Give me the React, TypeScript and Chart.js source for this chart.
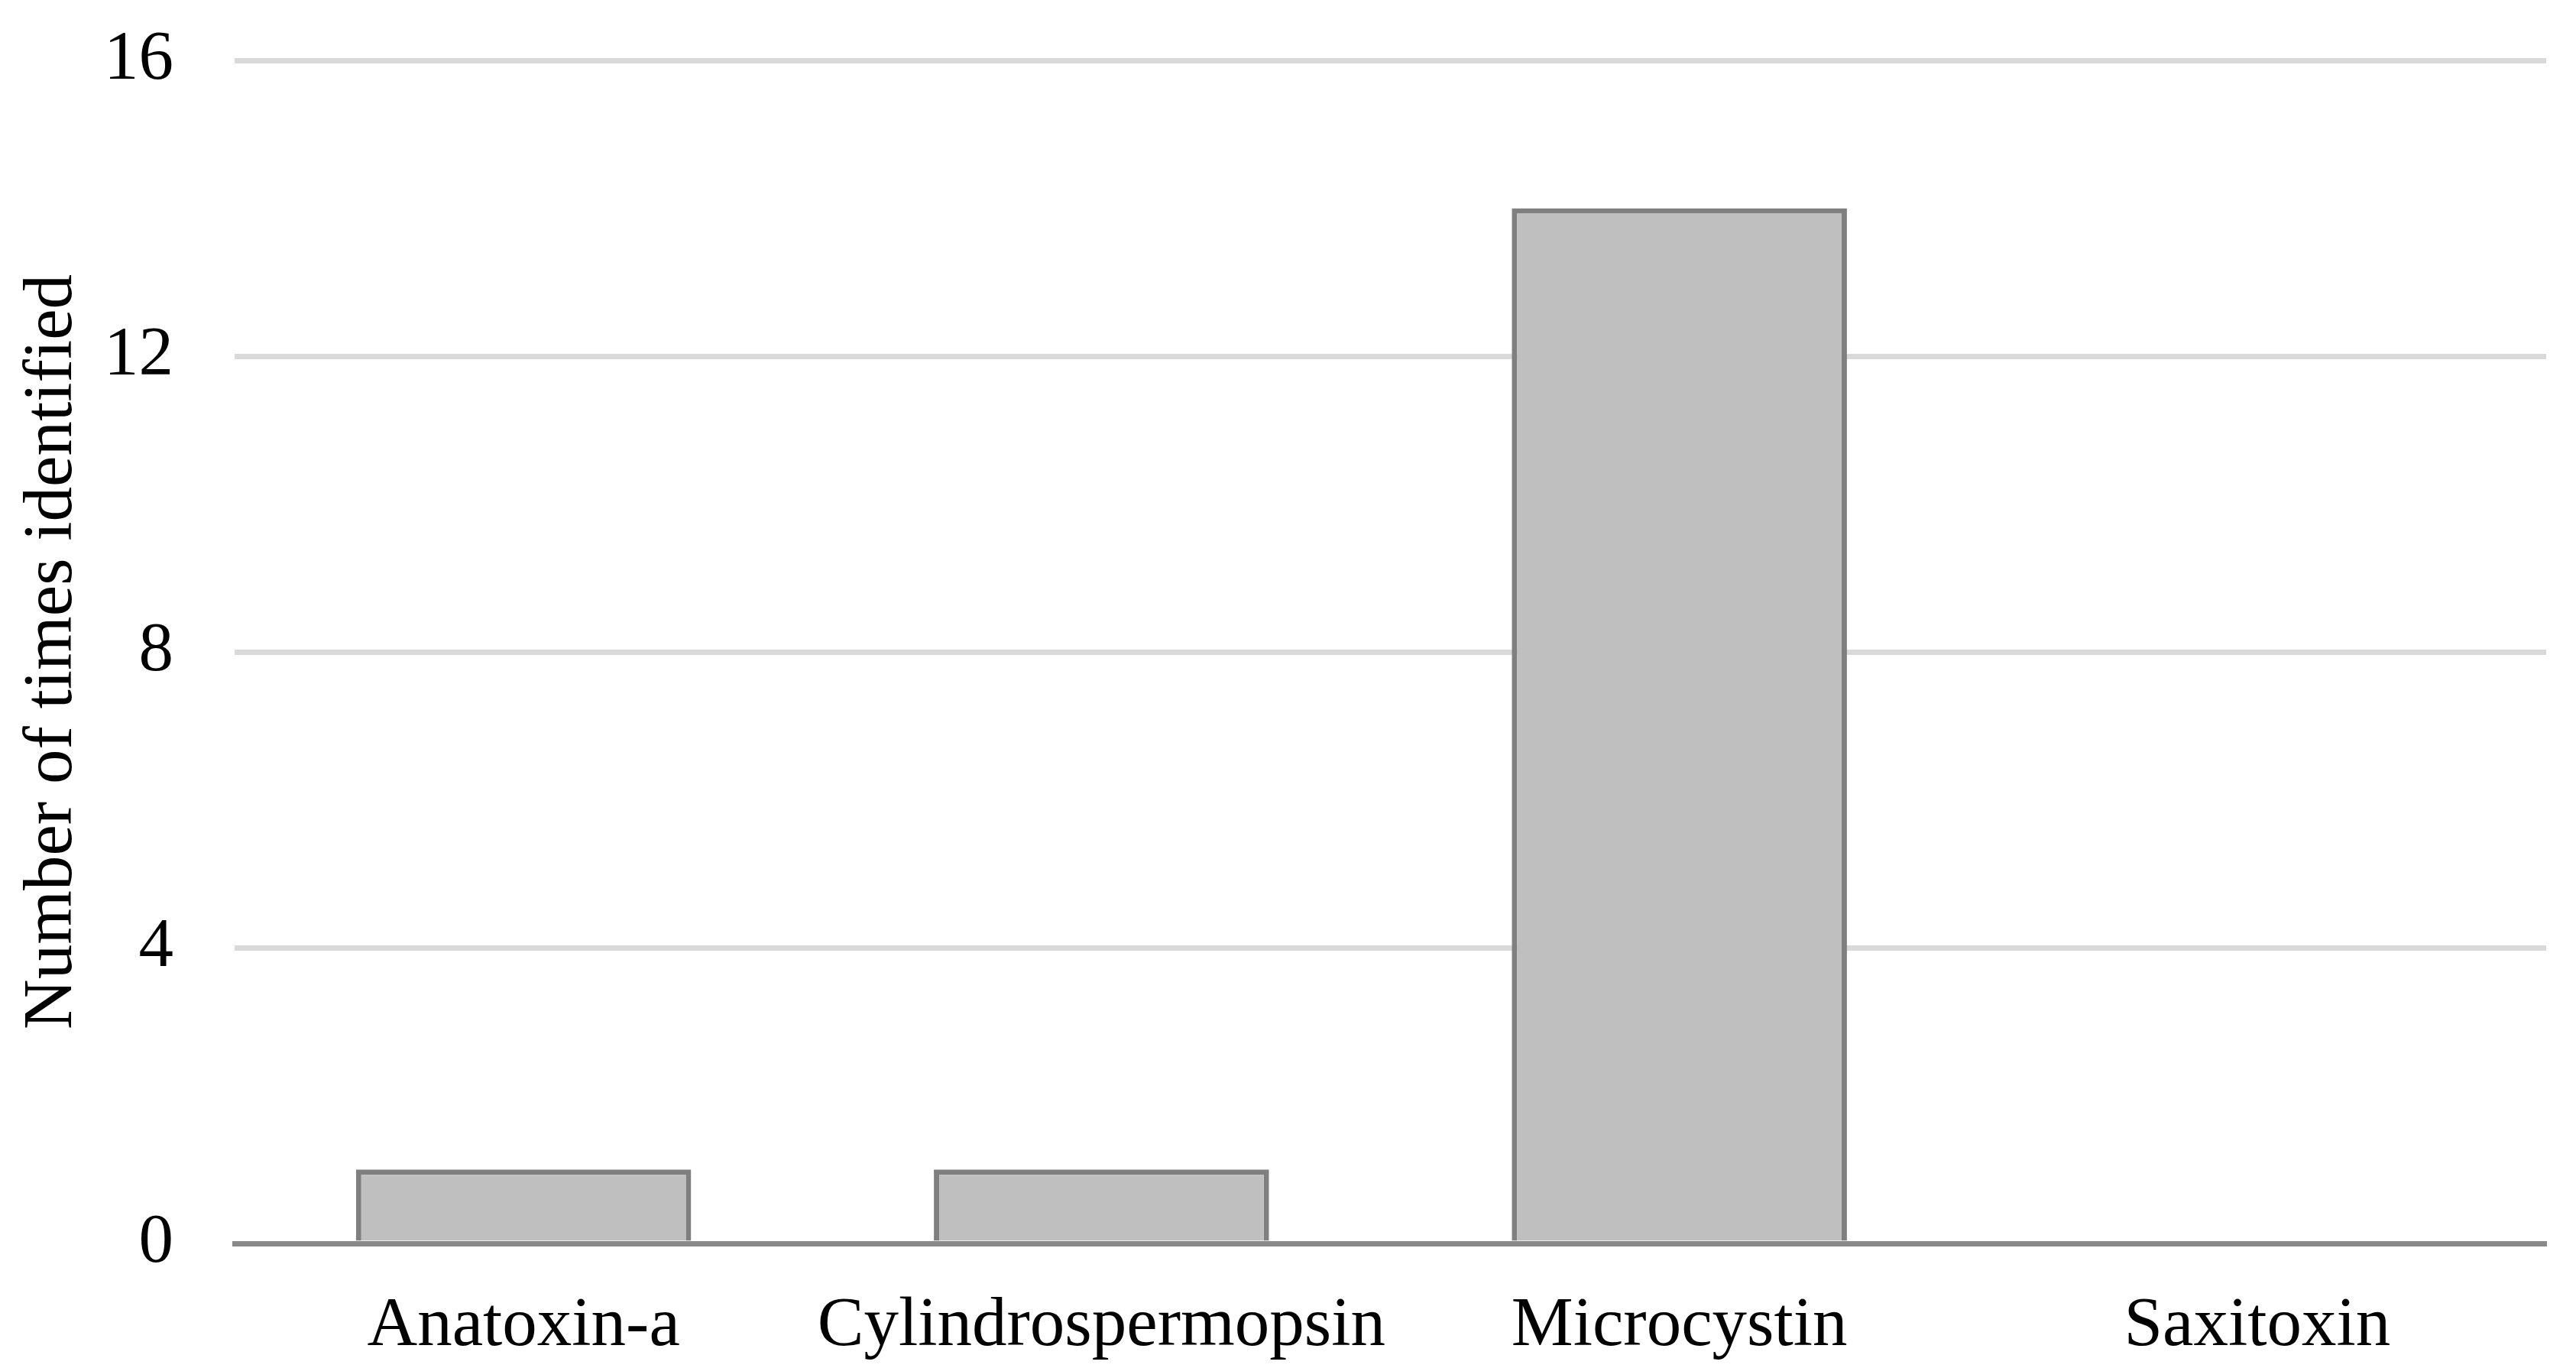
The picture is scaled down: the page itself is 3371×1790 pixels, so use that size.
import React, { useEffect, useRef } from "react";
import { Chart, registerables } from "chart.js";

Chart.register(...registerables);

const categories = ["Anatoxin-a", "Cylindrospermopsin", "Microcystin", "Saxitoxin"];
const counts = [1, 1, 14, 0];
const yTicks = [0, 4, 8, 12, 16];
const yTitle = "Number of times identified";

const W = 3371;
const H = 1790;
const FONT = "'Liberation Serif', 'Times New Roman', serif";

export default function App() {
  const ref = useRef<HTMLCanvasElement | null>(null);

  useEffect(() => {
    if (!ref.current) return;
    const chart = new Chart(ref.current, {
      type: "bar",
      data: {
        labels: categories,
        datasets: [
          {
            data: counts,
            backgroundColor: "#bfbfbf",
            borderColor: "#7f7f7f",
            borderWidth: 7,
            barPercentage: 0.58,
            categoryPercentage: 1,
          },
        ],
      },
      options: {
        responsive: false,
        animation: false,
        devicePixelRatio: 1,
        layout: { padding: { top: 79, right: 39, bottom: 0, left: 0 } },
        plugins: {
          legend: { display: false },
          tooltip: { enabled: false },
          title: { display: false },
        },
        scales: {
          x: {
            z: 1,
            grid: { display: false, drawTicks: false },
            border: { display: true, color: "#898989", width: 7 },
            ticks: {
              color: "#000000",
              font: { family: FONT, size: 91 },
              padding: 54,
              maxRotation: 0,
              autoSkip: false,
            },
            afterFit: (s: any) => {
              s.height = 163;
              s.paddingLeft = 0;
              s.paddingRight = 0;
            },
          },
          y: {
            min: 0,
            max: 16,
            afterBuildTicks: (s: any) => {
              s.ticks = yTicks.map((v) => ({ value: v }));
            },
            grid: { color: "#d9d9d9", lineWidth: 7, drawTicks: false },
            border: { display: false },
            ticks: {
              color: "#000000",
              font: { family: FONT, size: 91 },
              padding: 80,
            },
            title: {
              display: true,
              text: yTitle,
              color: "#000000",
              font: { family: FONT, size: 91 },
              padding: { top: 14, bottom: 0 },
            },
            afterFit: (s: any) => {
              s.width = 307;
              s.paddingTop = 0;
              s.paddingBottom = 0;
            },
          },
        },
      },
    });
    return () => chart.destroy();
  }, []);

  return (
    <div style={{ position: "fixed", left: 0, top: 0, width: W, height: H, background: "#ffffff" }}>
      <canvas ref={ref} width={W} height={H} style={{ display: "block", width: W, height: H }} />
    </div>
  );
}
